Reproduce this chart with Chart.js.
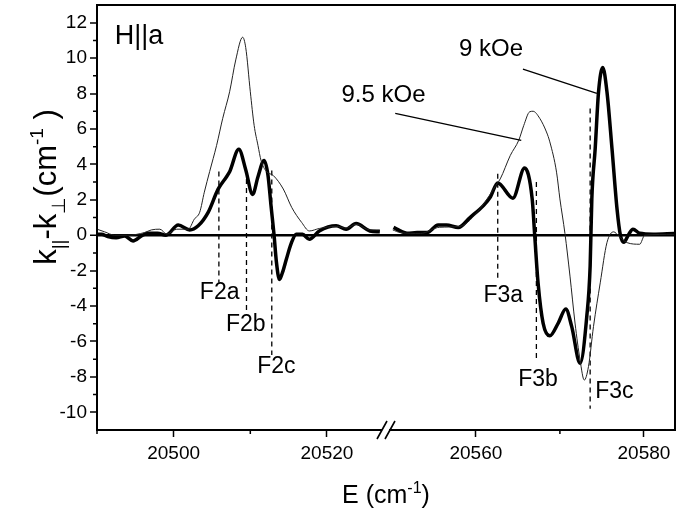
<!DOCTYPE html>
<html>
<head>
<meta charset="utf-8">
<script src="https://cdn.jsdelivr.net/npm/chart.js@4.4.1/dist/chart.umd.min.js"></script>
<style>
  html, body { margin: 0; padding: 0; background: #fff; }
  #wrap { width: 676px; height: 514px; }
</style>
</head>
<body>
<div id="wrap"><canvas id="chart"></canvas></div>
<script>
// axis ranges (broken x axis: two segments)
const leftRange = [20490, 20527.7];
const rightRange = [20549.3, 20583.7];
const yRange = [-11, 13];
const yMajorTicks = [-10, -8, -6, -4, -2, 0, 2, 4, 6, 8, 10, 12];
const yMinorTicks = [-9, -7, -5, -3, -1, 1, 3, 5, 7, 9, 11];
const leftMajorTicks = [20500, 20520];
const leftMinorTicks = [20490, 20510];
const rightMajorTicks = [20560, 20580];
const rightMinorTicks = [20570];

// 9 kOe (thick curve)
const thickLeftE = [20490.0, 20490.6, 20491.4, 20492.5, 20493.6, 20494.7, 20495.8, 20496.6, 20497.9, 20499.0,
  20500.6, 20502.1, 20503.2, 20504.5, 20505.8, 20506.9, 20507.3, 20508.5, 20509.4, 20510.3,
  20511.0, 20511.8, 20512.3, 20512.7, 20513.1, 20513.4, 20513.8, 20514.2, 20514.7, 20515.3,
  20516.0, 20516.8, 20517.7, 20519.0, 20521.2, 20522.5, 20523.8, 20525.6, 20526.9];
const thickLeftK = [0.05, 0.05, -0.08, -0.15, -0.04, -0.32, -0.04, 0.11, 0.11, 0.0,
  0.57, 0.3, 0.53, 1.29, 2.6, 3.3, 3.58, 4.85, 3.7, 2.3,
  3.3, 4.22, 3.4, 1.67, 0.0, -1.5, -2.5, -2.1, -1.36, -0.5,
  0.06, 0.05, -0.23, 0.24, 0.53, 0.34, 0.66, 0.24, 0.19];
const thickRightE = [20550.2, 20551.0, 20551.8, 20553.0, 20554.2, 20555.5, 20556.5, 20557.9, 20559.3, 20560.9,
  20561.7, 20562.6, 20564.4, 20565.8, 20566.7, 20567.0, 20567.4, 20568.0, 20568.8, 20569.8,
  20570.7, 20571.4, 20572.4, 20573.2, 20573.6, 20573.8, 20574.2, 20574.6, 20575.1, 20575.6,
  20576.2, 20576.8, 20577.2, 20577.6, 20578.2, 20578.7, 20579.5, 20581.1, 20583.6];
const thickRightK = [0.44, 0.24, 0.11, 0.15, 0.15, 0.57, 0.57, 0.44, 1.0, 1.67,
  2.14, 2.95, 2.09, 3.79, 2.05, 0.0, -2.69, -4.96, -5.68, -4.96,
  -4.17, -5.15, -7.23, -4.58, -1.74, 2.05, 4.89, 8.1, 9.47, 8.1,
  4.89, 1.48, 0.0, -0.4, 0.06, 0.34, 0.11, 0.06, 0.1];

// 9.5 kOe (thin curve)
const thinLeftE = [20490.0, 20491.0, 20492.3, 20494.0, 20496.2, 20497.1, 20498.2, 20499.1, 20500.4, 20501.9,
  20502.7, 20503.4, 20504.0, 20504.7, 20505.6, 20506.4, 20507.3, 20508.1, 20509.0, 20509.4,
  20510.0, 20510.5, 20511.0, 20511.4, 20512.1, 20513.0, 20514.3, 20515.4, 20516.7, 20517.7,
  20519.0, 20521.2, 20522.5, 20523.8, 20525.6, 20526.9];
const thinLeftK = [0.34, 0.19, 0.0, 0.0, 0.15, 0.3, 0.34, 0.06, 0.34, 0.34,
  0.91, 1.3, 2.43, 3.6, 5.07, 6.6, 8.1, 9.9, 11.18, 10.6,
  8.1, 6.2, 5.07, 4.22, 3.6, 3.37, 2.61, 1.57, 0.72, 0.24,
  0.38, 0.5, 0.4, 0.62, 0.3, 0.3];
const thinRightE = [20550.1, 20551.0, 20553.4, 20555.7, 20558.1, 20560.5, 20562.5, 20562.9, 20564.1, 20565.1,
  20565.7, 20566.4, 20566.8, 20567.6, 20568.4, 20568.8, 20569.6, 20570.0, 20570.6, 20571.2,
  20571.8, 20572.4, 20572.9, 20573.4, 20574.0, 20574.8, 20575.6, 20576.4, 20577.0, 20578.0,
  20579.5, 20580.1, 20583.6];
const thinRightK = [0.3, 0.15, 0.1, 0.45, 0.5, 1.5, 2.9, 3.18, 4.51, 5.36,
  6.2, 6.97, 7.0, 6.6, 5.83, 5.27, 3.56, 2.05, 0.1, -2.31,
  -4.96, -7.05, -8.18, -7.42, -5.15, -2.69, -0.42, 0.19, -0.04, -0.42,
  -0.51, 0.0, 0.05];

// dashed component markers
const markerNames = ["F2a", "F2b", "F2c", "F3a", "F3b", "F3c"];
const markerE = [20505.9, 20509.5, 20512.8, 20562.6, 20567.2, 20573.6];
const markerTop = [3.6, 3.18, 3.65, 3.47, 3.0, 7.16];
const markerBottom = [-2.67, -4.5, -6.76, -2.6, -7.0, -9.8];
const markerLabelE = [20506.0, 20509.4, 20513.4, 20563.25, 20567.4, 20574.2];
const markerLabelK = [-3.24, -5.06, -7.41, -3.4, -8.18, -8.85];

// field labels with leader lines (right segment)
const fieldNames = ["9 kOe", "9.5 kOe"];
const fieldLabelE = [20561.8, 20549.0];
const fieldLabelK = [10.5, 7.9];
const leaderFrom = [[20565.6, 9.38], [20550.4, 6.88]];
const leaderTo = [[20574.4, 8.01], [20565.4, 5.36]];

const FONT = '"Liberation Sans", Arial, sans-serif';

const pts = (xs, ys) => xs.map((x, i) => ({ x: x, y: ys[i] }));
const segOf = e => (e < 20540 ? "xL" : "xR");

const datasets = [
  { label: "9.5 kOe", xAxisID: "xL", data: pts(thinLeftE, thinLeftK), borderColor: "#222", borderWidth: 1 },
  { label: "9.5 kOe", xAxisID: "xR", data: pts(thinRightE, thinRightK), borderColor: "#222", borderWidth: 1 },
  { label: "9 kOe", xAxisID: "xL", data: pts(thickLeftE, thickLeftK), borderColor: "#000", borderWidth: 3.5 },
  { label: "9 kOe", xAxisID: "xR", data: pts(thickRightE, thickRightK), borderColor: "#000", borderWidth: 3.5 }
].map(d => Object.assign(d, { pointRadius: 0, cubicInterpolationMode: "monotone", fill: false }));

markerNames.forEach((name, i) => {
  datasets.push({
    label: name,
    xAxisID: segOf(markerE[i]),
    data: [{ x: markerE[i], y: markerTop[i] }, { x: markerE[i], y: markerBottom[i] }],
    borderColor: "#000",
    borderWidth: 1.3,
    borderDash: [5, 4],
    pointRadius: 0
  });
});

// rich text: parts = [[text, "n"|"sub"|"sup"], ...]
function drawRich(ctx, parts, x, y, size) {
  const pieces = parts.map(([t, k]) => {
    const s = k === "n" ? size : Math.round(size * 0.62);
    ctx.font = s + "px " + FONT;
    return { t, k, s, w: ctx.measureText(t).width };
  });
  const total = pieces.reduce((a, p) => a + p.w, 0);
  let cx = x - total / 2;
  ctx.textAlign = "left";
  ctx.textBaseline = "alphabetic";
  pieces.forEach(p => {
    ctx.font = p.s + "px " + FONT;
    const dy = p.k === "sub" ? size * 0.28 : p.k === "sup" ? -size * 0.42 : 0;
    ctx.fillText(p.t, cx, y + dy);
    cx += p.w;
  });
}

const decorations = {
  id: "decorations",
  afterDraw(chart) {
    const { ctx, chartArea: a, scales } = chart;
    const xL = scales.xL, xR = scales.xR, y = scales.y;
    ctx.save();
    ctx.strokeStyle = "#000";
    ctx.fillStyle = "#000";

    // frame
    ctx.lineWidth = 2;
    ctx.strokeRect(a.left, a.top, a.right - a.left, a.bottom - a.top);

    // minor ticks
    ctx.lineWidth = 1.5;
    ctx.beginPath();
    yMinorTicks.forEach(v => {
      const py = y.getPixelForValue(v);
      ctx.moveTo(a.left - 4, py); ctx.lineTo(a.left, py);
    });
    leftMinorTicks.forEach(v => {
      const px = xL.getPixelForValue(v);
      ctx.moveTo(px, a.bottom); ctx.lineTo(px, a.bottom + 4);
    });
    rightMinorTicks.forEach(v => {
      const px = xR.getPixelForValue(v);
      ctx.moveTo(px, a.bottom); ctx.lineTo(px, a.bottom + 4);
    });
    ctx.stroke();

    // axis break marks
    const bx = xL.right, by = a.bottom;
    ctx.fillStyle = "#fff";
    ctx.fillRect(bx - 4, by - 2, 7, 4);
    ctx.fillStyle = "#000";
    ctx.lineWidth = 1.6;
    ctx.beginPath();
    ctx.moveTo(bx - 9, by + 9); ctx.lineTo(bx + 1, by - 9);
    ctx.moveTo(bx - 1, by + 9); ctx.lineTo(bx + 9, by - 9);
    ctx.stroke();

    // leader lines
    ctx.lineWidth = 1.3;
    ctx.beginPath();
    leaderFrom.forEach((p, i) => {
      ctx.moveTo(xR.getPixelForValue(p[0]), y.getPixelForValue(p[1]));
      ctx.lineTo(xR.getPixelForValue(leaderTo[i][0]), y.getPixelForValue(leaderTo[i][1]));
    });
    ctx.stroke();

    // field labels
    ctx.font = "24px " + FONT;
    ctx.textAlign = "center";
    ctx.textBaseline = "middle";
    fieldNames.forEach((t, i) => {
      ctx.fillText(t, xR.getPixelForValue(fieldLabelE[i]), y.getPixelForValue(fieldLabelK[i]));
    });

    // marker labels
    ctx.font = "23px " + FONT;
    markerNames.forEach((t, i) => {
      const sc = scales[segOf(markerE[i])];
      ctx.textAlign = i === markerNames.length - 1 ? "left" : "center";
      ctx.fillText(t, sc.getPixelForValue(markerLabelE[i]), y.getPixelForValue(markerLabelK[i]));
    });

    // panel tag
    ctx.font = "27px " + FONT;
    ctx.textAlign = "left";
    ctx.fillText("H||a", xL.getPixelForValue(20492.3), y.getPixelForValue(11.2));

    // axis titles
    drawRich(ctx, [["E (cm", "n"], ["-1", "sup"], [")", "n"]], (a.left + a.right) / 2, 503, 25);
    ctx.translate(45, 187);
    ctx.rotate(-Math.PI / 2);
    drawRich(ctx, [["k", "n"], ["||", "sub"], ["-k", "n"], ["\u22a5", "sub"], ["(cm", "n"], ["-1", "sup"], [" )", "n"]], 0, 11, 31);
    ctx.restore();
  }
};

const tickFont = { family: FONT, size: 19 };

function xAxis(range, majors) {
  return {
    type: "linear",
    position: "bottom",
    stack: "x",
    stackWeight: 1,
    min: range[0],
    max: range[1],
    border: { display: false },
    grid: { drawOnChartArea: false, drawTicks: true, tickLength: 7, tickWidth: 1.5, tickColor: "#000" },
    ticks: { font: tickFont, color: "#000", padding: 5, maxRotation: 0, callback: v => String(v) },
    afterBuildTicks: s => { s.ticks = majors.map(v => ({ value: v })); },
    afterFit: s => { s.height = 84; s.paddingLeft = 0; s.paddingRight = 0; }
  };
}

new Chart(document.getElementById("chart"), {
  type: "line",
  data: { datasets: datasets },
  options: {
    responsive: true,
    maintainAspectRatio: false,
    animation: false,
    layout: { padding: { left: 0, right: 1, top: 5, bottom: 0 } },
    plugins: { legend: { display: false }, tooltip: { enabled: false } },
    scales: {
      xL: xAxis(leftRange, leftMajorTicks),
      xR: xAxis(rightRange, rightMajorTicks),
      y: {
        type: "linear",
        min: yRange[0],
        max: yRange[1],
        border: { display: false },
        grid: {
          drawOnChartArea: true,
          color: c => (c.tick && c.tick.value === 0 ? "#000" : "rgba(0,0,0,0)"),
          lineWidth: c => (c.tick && c.tick.value === 0 ? 2.5 : 0),
          tickLength: 7,
          tickWidth: 1.5,
          tickColor: "#000"
        },
        ticks: { font: tickFont, color: "#000", padding: 3 },
        afterBuildTicks: s => { s.ticks = yMajorTicks.map(v => ({ value: v })); },
        afterFit: s => { s.width = 97; s.paddingTop = 0; s.paddingBottom = 0; }
      }
    }
  },
  plugins: [decorations]
});
</script>
</body>
</html>
